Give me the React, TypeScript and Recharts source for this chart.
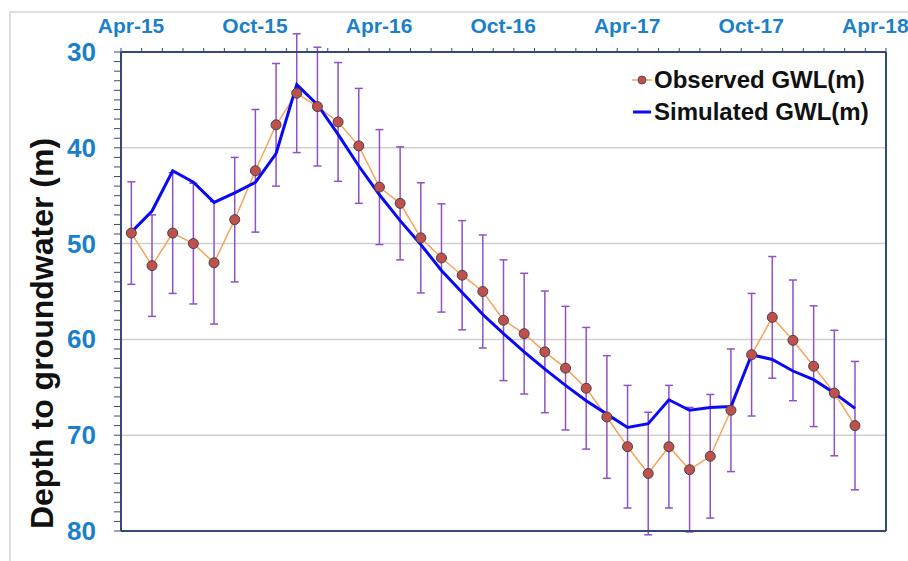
import { LineChart, Line, XAxis, YAxis, CartesianGrid, ErrorBar, Legend } from 'recharts';

// monthly observations, plotted mid-month
const months = [
  '2015-04', '2015-05', '2015-06', '2015-07', '2015-08', '2015-09',
  '2015-10', '2015-11', '2015-12', '2016-01', '2016-02', '2016-03',
  '2016-04', '2016-05', '2016-06', '2016-07', '2016-08', '2016-09',
  '2016-10', '2016-11', '2016-12', '2017-01', '2017-02', '2017-03',
  '2017-04', '2017-05', '2017-06', '2017-07', '2017-08', '2017-09',
  '2017-10', '2017-11', '2017-12', '2018-01', '2018-02', '2018-03',
];
const observed = [
  48.9, 52.3, 48.9, 50.0, 52.0, 47.5, 42.4, 37.6, 34.3, 35.7, 37.3, 39.8,
  44.1, 45.8, 49.4, 51.5, 53.3, 55.0, 58.0, 59.4, 61.3, 63.0, 65.1, 68.1,
  71.2, 74.0, 71.2, 73.6, 72.2, 67.4, 61.6, 57.7, 60.1, 62.8, 65.6, 69.0,
];
const observedErr = [
  5.35, 5.3, 6.3, 6.3, 6.4, 6.5, 6.4, 6.4, 6.2, 6.2, 6.2, 6.0,
  6.0, 5.9, 5.75, 5.65, 5.7, 5.9, 6.3, 6.3, 6.35, 6.45, 6.35, 6.4,
  6.4, 6.4, 6.4, 6.5, 6.45, 6.4, 6.4, 6.35, 6.3, 6.3, 6.55, 6.7,
];
const simulated = [
  48.8, 46.6, 42.4, 43.6, 45.7, 44.7, 43.6, 40.6, 33.4, 35.5, 38.6, 41.9,
  44.9, 47.6, 50.1, 52.8, 55.1, 57.4, 59.4, 61.3, 63.1, 64.8, 66.4, 67.8,
  69.2, 68.8, 66.3, 67.4, 67.1, 67.0, 61.6, 62.1, 63.3, 64.2, 65.6, 67.2,
];
const dateLabels = ['Apr-15', 'Oct-15', 'Apr-16', 'Oct-16', 'Apr-17', 'Oct-17', 'Apr-18'];
const depthLabels = [30, 40, 50, 60, 70, 80];

const FONT = '"Liberation Sans", Arial, sans-serif';
const AXIS_BLUE = '#1b7fc9';
const FRAME = '#34487a';

const monthsSinceStart = (m: string) => {
  const [y, mo] = m.split('-').map(Number);
  return (y - 2015) * 12 + (mo - 4) + 0.5;
};

const data = months.map((m, i) => ({
  t: monthsSinceStart(m),
  obs: observed[i],
  err: observedErr[i],
  sim: simulated[i],
}));

const xTicks = Array.from({ length: 38 }, (_, i) => i);
const yTicks = Array.from({ length: 51 }, (_, i) => 30 + i);

const DateTick = ({ x, y, payload }: any) => {
  const v = payload.value as number;
  if (v % 6 !== 0) return null;
  return (
    <text x={x + 10} y={y} textAnchor="middle" fill={AXIS_BLUE} fontSize={21} fontWeight="bold" fontFamily={FONT}>
      {dateLabels[v / 6]}
    </text>
  );
};

const DepthTick = ({ x, y, payload }: any) => {
  const v = payload.value as number;
  if (!depthLabels.includes(v)) return null;
  return (
    <text x={x} y={y} textAnchor="end" dominantBaseline="central" fill={AXIS_BLUE} fontSize={26} fontWeight="bold" fontFamily={FONT}>
      {v}
    </text>
  );
};

const DepthLabel = ({ viewBox }: any) => {
  const cx = viewBox.x + 43;
  const cy = viewBox.y + viewBox.height / 2 + 42;
  return (
    <text
      x={cx}
      y={cy}
      transform={`rotate(-90, ${cx}, ${cy})`}
      textAnchor="middle"
      fill="#111"
      fontSize={32}
      fontWeight="bold"
      fontFamily={FONT}
    >
      Depth to groundwater (m)
    </text>
  );
};

const LegendBox = () => (
  <div style={{ fontFamily: FONT, fontSize: 24, fontWeight: 'bold', color: '#111', lineHeight: '32px' }}>
    <div style={{ display: 'flex', alignItems: 'center' }}>
      <svg width={20} height={12} style={{ marginRight: 2 }}>
        <line x1={0} y1={6} x2={20} y2={6} stroke="#f5a35e" strokeWidth={1.5} />
        <circle cx={10} cy={6} r={4} fill="#c0504d" stroke="#444" strokeWidth={0.8} />
      </svg>
      Observed GWL(m)
    </div>
    <div style={{ display: 'flex', alignItems: 'center' }}>
      <svg width={20} height={12} style={{ marginRight: 2 }}>
        <line x1={1} y1={6} x2={19} y2={6} stroke="#0a0af5" strokeWidth={3} />
      </svg>
      Simulated GWL(m)
    </div>
  </div>
);

export default function App() {
  return (
    <div style={{ position: 'absolute', left: 0, top: 0, width: 908, height: 561, background: '#fff' }}>
      <div
        style={{
          position: 'absolute',
          left: 9,
          top: 11,
          width: 899,
          height: 550,
          borderLeft: '2px solid #dedede',
          borderTop: '2px solid #dedede',
        }}
      />
      <div style={{ position: 'absolute', left: 0, top: 0 }}>
        <LineChart width={908} height={561} data={data} margin={{ top: 12, right: 21, bottom: 29, left: 10 }}>
          <CartesianGrid vertical={false} horizontalValues={[40, 50, 60, 70]} stroke="#cfcfcf" strokeWidth={1.5} />
          <XAxis
            dataKey="t"
            type="number"
            orientation="top"
            domain={[0, 37]}
            ticks={xTicks}
            interval={0}
            height={40}
            tickSize={4}
            tickMargin={15}
            tick={<DateTick />}
            stroke={FRAME}
            strokeWidth={2}
            axisLine
            tickLine={{ strokeWidth: 1 }}
          />
          <XAxis
            xAxisId="bottom"
            dataKey="t"
            type="number"
            orientation="bottom"
            domain={[0, 37]}
            height={1}
            tick={false}
            tickLine={false}
            stroke={FRAME}
            strokeWidth={2}
            axisLine
          />
          <YAxis
            type="number"
            reversed
            domain={[30, 80]}
            allowDataOverflow
            ticks={yTicks}
            interval={0}
            width={111}
            tickSize={7}
            tickMargin={18}
            tick={<DepthTick />}
            stroke={FRAME}
            strokeWidth={2}
            axisLine
            tickLine={{ strokeWidth: 1 }}
            label={<DepthLabel />}
          />
          <YAxis
            yAxisId="right"
            orientation="right"
            type="number"
            domain={[30, 80]}
            allowDataOverflow
            width={1}
            tick={false}
            tickLine={false}
            stroke={FRAME}
            strokeWidth={2}
            axisLine
          />
          <Legend
            layout="vertical"
            align="center"
            verticalAlign="middle"
            content={<LegendBox />}
            wrapperStyle={{ left: 632, top: 64, width: 270 }}
          />
          <Line
            dataKey="obs"
            name="Observed GWL(m)"
            stroke="#f5a35e"
            strokeWidth={1.5}
            dot={{ r: 5, fill: '#c0504d', stroke: '#444', strokeWidth: 1, fillOpacity: 1 }}
            isAnimationActive={false}
          >
            <ErrorBar dataKey="err" direction="y" width={4} stroke="#8e52c4" strokeWidth={1.5} />
          </Line>
          <Line dataKey="sim" name="Simulated GWL(m)" stroke="#0a0af5" strokeWidth={3} dot={false} isAnimationActive={false} />
        </LineChart>
      </div>
    </div>
  );
}
